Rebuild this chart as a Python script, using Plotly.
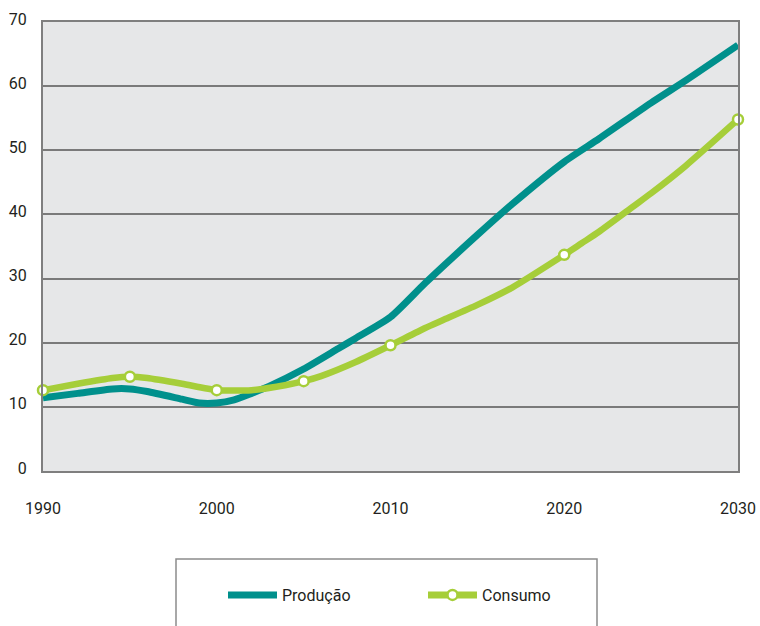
import plotly.graph_objects as go

# Produção (teal)
prod_years = [1990, 1992, 1994, 1995, 1996, 1998, 1999, 2000, 2001, 2002, 2003, 2005,
              2007, 2008, 2010, 2012, 2015, 2017, 2020, 2022, 2025, 2027, 2030]
prod_vals = [11.4, 12.1, 12.8, 12.8, 12.4, 11.2, 10.6, 10.6, 11.1, 12.1, 13.2, 15.9,
             19.1, 20.7, 24.0, 29.3, 36.8, 41.6, 48.2, 51.8, 57.4, 60.9, 66.4]

# Consumo (light green)
cons_years = [1990, 1992, 1994, 1995, 1996, 1998, 2000, 2002, 2004, 2005, 2006, 2008,
              2010, 2012, 2013, 2015, 2017, 2020, 2021, 2022, 2024, 2025, 2027, 2030]
cons_vals = [12.6, 13.6, 14.5, 14.7, 14.5, 13.6, 12.6, 12.6, 13.4, 14.0, 14.8, 17.0,
             19.6, 22.3, 23.5, 25.9, 28.6, 33.7, 35.5, 37.3, 41.3, 43.3, 47.6, 54.8]

# Consumo marker points
cons_marker_years = [1990, 1995, 2000, 2005, 2010, 2020, 2030]
cons_marker_vals = [12.6, 14.7, 12.6, 14.0, 19.6, 33.7, 54.8]

x_ticks = [1990, 2000, 2010, 2020, 2030]
y_ticks = [0, 10, 20, 30, 40, 50, 60, 70]

TEAL = "#00908C"
GREEN = "#A6CE39"
TXT = "#231F20"
FONT = "Roboto"

# plot area spans 43..738 x 22..471 on screen
PL, PT, PW, PH = 43, 22, 695, 449

fig = go.Figure()

fig.add_trace(go.Scatter(
    x=prod_years, y=prod_vals, mode="lines", name="Produção",
    line=dict(color=TEAL, width=7, shape="spline", smoothing=0.6),
    showlegend=False, cliponaxis=False,
))
fig.add_trace(go.Scatter(
    x=cons_years, y=cons_vals, mode="lines", name="Consumo",
    line=dict(color=GREEN, width=6.5, shape="spline", smoothing=0.6),
    showlegend=False, cliponaxis=False,
))
fig.add_trace(go.Scatter(
    x=cons_marker_years, y=cons_marker_vals, mode="markers", name="Consumo",
    marker=dict(color="white", size=10, line=dict(color=GREEN, width=2.5)),
    showlegend=False, cliponaxis=False,
))
# legend entries
fig.add_trace(go.Scatter(
    x=[None], y=[None], mode="lines", name="Produção",
    line=dict(color=TEAL, width=7),
))
fig.add_trace(go.Scatter(
    x=[None], y=[None], mode="lines+markers", name="Consumo",
    line=dict(color=GREEN, width=7),
    marker=dict(color="white", size=10, line=dict(color=GREEN, width=2.5)),
))

# legend box
fig.add_shape(type="rect", xref="paper", yref="paper",
              x0=(176 - PL) / PW, x1=(597 - PL) / PW,
              y0=(PT + PH - 559) / PH, y1=(PT + PH - 660) / PH,
              line=dict(color="#8C8C8C", width=1.5), fillcolor="white", layer="below")

fig.update_layout(
    width=760, height=626,
    margin=dict(l=PL, r=760 - PL - PW, t=PT, b=626 - PT - PH, autoexpand=False),
    paper_bgcolor="white",
    plot_bgcolor="#E6E7E8",
    font=dict(family=FONT, size=16, color=TXT),
    showlegend=True,
    legend=dict(
        orientation="h", x=(223 - PL) / PW, xanchor="left",
        y=(PT + PH - 595) / PH, yanchor="middle",
        bgcolor="rgba(0,0,0,0)", borderwidth=0,
        font=dict(family=FONT, size=16, color=TXT),
        entrywidth=136, entrywidthmode="pixels", itemwidth=49,
    ),
    xaxis=dict(
        range=[1990, 2030], tickvals=x_ticks, ticktext=[str(v) for v in x_ticks],
        showgrid=False, zeroline=False, ticks="", automargin=False,
        showline=True, linecolor="#7F7F7F", linewidth=2, mirror=True,
        ticklabelstandoff=22, tickfont=dict(family=FONT, size=16, color=TXT),
    ),
    yaxis=dict(
        range=[0, 70], tickvals=y_ticks, ticktext=[str(v) for v in y_ticks],
        showgrid=True, gridcolor="#7A7A7A", gridwidth=1.5, zeroline=False, ticks="",
        showline=True, linecolor="#7F7F7F", linewidth=2, mirror=True, automargin=False,
        ticklabelstandoff=11, ticklabelshift=-3,
        tickfont=dict(family=FONT, size=16, color=TXT),
    ),
)

fig.write_html(
    "out.html",
    config={"displayModeBar": False},
    post_script="document.body.style.margin='0';document.body.style.overflow='hidden';",
)
